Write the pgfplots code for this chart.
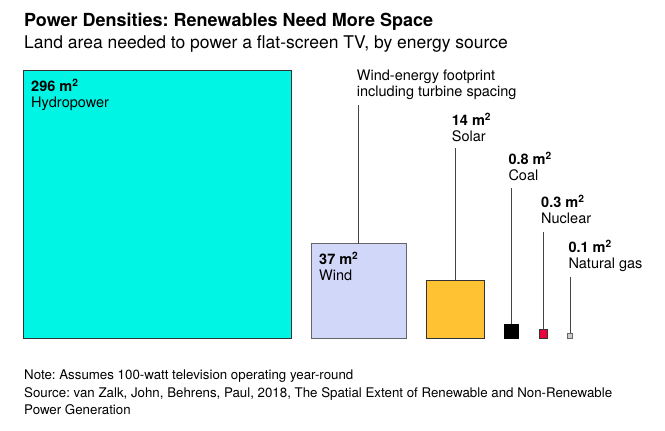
\documentclass[border=0pt]{standalone}
\usepackage{pgfplots}
\pgfplotsset{compat=1.18}
\usepackage{fontspec}
\setmainfont{TeX Gyre Heros}
\frenchspacing
\definecolor{hydro}{HTML}{00F5E4}
\definecolor{wind}{HTML}{D1D7F8}
\definecolor{solar}{HTML}{FFC233}
\definecolor{coal}{HTML}{000000}
\definecolor{nuclear}{HTML}{EE003C}
\definecolor{gas}{HTML}{CCCCCC}
\definecolor{leader}{HTML}{444444}
\newcommand{\px}[2]{(#1bp,{431bp-#2bp})}
\begin{document}
\begin{tikzpicture}
\path (0,0) rectangle (665bp,431bp);
\begin{axis}[
  scale only axis, width=665bp, height=431bp,
  xmin=-1.508, xmax=41.17, ymin=-5.95, ymax=21.714,
  hide axis, clip=false, no markers,
]
% squares: side = sqrt(area in m^2)
% Hydropower 296 m2
\addplot[fill=hydro, draw=black!80, line width=0.9bp] coordinates {(0,0) (17.205,0) (17.205,17.205) (0,17.205)} -- cycle;
% Wind 37 m2
\addplot[fill=wind, draw=black!60, line width=0.9bp] coordinates {(18.49,0) (24.573,0) (24.573,6.083) (18.49,6.083)} -- cycle;
% Solar 14 m2
\addplot[fill=solar, draw=black!80, line width=0.9bp] coordinates {(25.86,0) (29.602,0) (29.602,3.742) (25.86,3.742)} -- cycle;
% Coal 0.8 m2
\addplot[fill=coal, draw=black, line width=0.9bp] coordinates {(30.893,0) (31.787,0) (31.787,0.894) (30.893,0.894)} -- cycle;
% Nuclear 0.3 m2
\addplot[fill=nuclear, draw=black!80, line width=0.9bp] coordinates {(33.086,0) (33.634,0) (33.634,0.548) (33.086,0.548)} -- cycle;
% Natural gas 0.1 m2
\addplot[fill=gas, draw=black!60, line width=0.9bp] coordinates {(34.922,0) (35.238,0) (35.238,0.316) (34.922,0.316)} -- cycle;
% leader lines
\addplot[leader, line width=1bp] coordinates {(21.53,6.083) (21.53,14.97)};
\addplot[leader, line width=1bp] coordinates {(27.73,3.742) (27.73,12.21)};
\addplot[leader, line width=1bp] coordinates {(31.34,0.894) (31.34,9.67)};
\addplot[leader, line width=1bp] coordinates {(33.36,0.548) (33.36,6.84)};
\addplot[leader, line width=1bp] coordinates {(35.08,0.316) (35.08,3.96)};
\end{axis}
% titles
\node[anchor=base west, inner sep=0, font=\fontsize{18bp}{20bp}\selectfont\bfseries] at \px{24}{26.5} {Power Densities: Renewables Need More Space};
\node[anchor=base west, inner sep=0, font=\fontsize{17.5bp}{20bp}\selectfont] at \px{24}{48.5} {Land area needed to power a flat-screen TV, by energy source};
% labels
\tikzset{lab/.style={anchor=base west, inner sep=0, font=\fontsize{14.5bp}{16bp}\selectfont}, val/.style={lab, font=\fontsize{14.5bp}{16bp}\selectfont\bfseries}}
\node[lab] at \px{356.7}{80.5} {Wind-energy footprint};
\node[lab] at \px{356.7}{97} {including turbine spacing};
\node[val] at \px{31}{91.7} {296 m\textsuperscript{2}};
\node[lab] at \px{31}{108} {Hydropower};
\node[val] at \px{319}{264.3} {37 m\textsuperscript{2}};
\node[lab] at \px{319}{281} {Wind};
\node[val] at \px{451.7}{125.5} {14 m\textsuperscript{2}};
\node[lab] at \px{451.7}{141.5} {Solar};
\node[val] at \px{508.3}{164.5} {0.8 m\textsuperscript{2}};
\node[lab] at \px{508.3}{180.5} {Coal};
\node[val] at \px{541}{208} {0.3 m\textsuperscript{2}};
\node[lab] at \px{541}{224} {Nuclear};
\node[val] at \px{568.3}{253} {0.1 m\textsuperscript{2}};
\node[lab] at \px{568.3}{269} {Natural gas};
% notes
\tikzset{note/.style={anchor=base west, inner sep=0, font=\fontsize{13.3bp}{15bp}\selectfont}}
\node[note] at \px{24}{380} {Note: Assumes 100-watt television operating year-round};
\node[note] at \px{24}{397} {Source: van Zalk, John, Behrens, Paul, 2018, The Spatial Extent of Renewable and Non-Renewable};
\node[note] at \px{24}{414} {Power Generation};
\end{tikzpicture}
\end{document}
